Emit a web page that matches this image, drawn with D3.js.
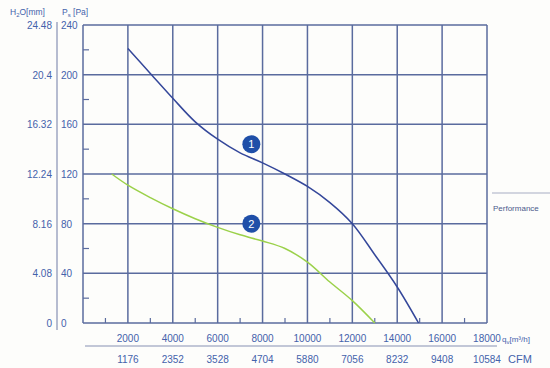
<!DOCTYPE html>
<html>
<head>
<meta charset="UTF-8">
<script src="https://d3js.org/d3.v7.min.js"></script>
<style>
  body { margin: 0; background: #fdfdfb; }
  svg { display: block; font-family: "Liberation Sans", Arial, sans-serif; }
</style>
</head>
<body>
<svg></svg>
<script>
// flow values [m3/h] and static pressure [Pa]
var curve1 = [[2000,221],[3000,201],[4000,181],[5000,162],[6000,148],[7000,137],[8000,129],
              [9000,120],[10000,110],[11000,97],[12000,80],[13000,55],[14000,29],[14950,0]];
var curve2 = [[1280,120],[2000,111],[3000,101],[4000,92],[5000,84],[6000,77],[7000,71],
              [8000,66],[9000,60],[10000,49],[11000,33],[12000,18],[13000,0]];
var markers = [{x: 7500, y: 144, label: "1"}, {x: 7500, y: 80, label: "2"}];

var xTicks = [2000, 4000, 6000, 8000, 10000, 12000, 14000, 16000, 18000];
var cfmLabels = ["1176", "2352", "3528", "4704", "5880", "7056", "8232", "9408", "10584"];
var paTicks = [0, 40, 80, 120, 160, 200, 240];
var mmLabels = ["0", "4.08", "8.16", "12.24", "16.32", "20.4", "24.48"];

var W = 550, H = 368;
var gridColor = "#5a6b9e", textColor = "#4462ab";

var svg = d3.select("svg").attr("width", W).attr("height", H);

var x = d3.scaleLinear().domain([0, 18000]).range([83, 487]);
var y = d3.scaleLinear().domain([0, 240]).range([323, 25]);

// grid
var grid = svg.append("g");
grid.selectAll("line.v")
  .data(d3.range(0, 18001, 2000))
  .enter().append("line")
  .attr("x1", d => x(d)).attr("x2", d => x(d))
  .attr("y1", y(0)).attr("y2", y(240))
  .attr("stroke", gridColor).attr("stroke-width", 1.5);
grid.selectAll("line.h")
  .data(paTicks)
  .enter().append("line")
  .attr("x1", x(0)).attr("x2", x(18000))
  .attr("y1", d => y(d)).attr("y2", d => y(d))
  .attr("stroke", gridColor).attr("stroke-width", 1.5);

// minor ticks
grid.selectAll("line.mx")
  .data(d3.range(1000, 18000, 2000))
  .enter().append("line")
  .attr("x1", d => x(d)).attr("x2", d => x(d))
  .attr("y1", y(0)).attr("y2", y(0) - 5)
  .attr("stroke", gridColor).attr("stroke-width", 1.2);
grid.selectAll("line.my")
  .data(d3.range(20, 240, 40))
  .enter().append("line")
  .attr("x1", x(0)).attr("x2", x(0) + 6)
  .attr("y1", d => y(d)).attr("y2", d => y(d))
  .attr("stroke", gridColor).attr("stroke-width", 1.2);

// separator between the two left scales
svg.append("line")
  .attr("x1", 57).attr("x2", 57).attr("y1", 22).attr("y2", 330)
  .attr("stroke", "#8791b4").attr("stroke-width", 1.2);

// left labels
svg.selectAll("text.mm")
  .data(paTicks)
  .enter().append("text")
  .attr("x", 52).attr("y", d => y(d) + 4)
  .attr("text-anchor", "end")
  .attr("font-size", 10).attr("fill", textColor)
  .text((d, i) => mmLabels[i]);
svg.selectAll("text.pa")
  .data(paTicks)
  .enter().append("text")
  .attr("x", 61).attr("y", d => y(d) + 4)
  .attr("font-size", 10).attr("fill", textColor)
  .text(d => d);

svg.append("text").attr("x", 10).attr("y", 15)
  .attr("font-size", 8.5).attr("fill", textColor)
  .html("H<tspan font-size='6' dy='2'>2</tspan><tspan dy='-2'>O[mm]</tspan>");
svg.append("text").attr("x", 62).attr("y", 15)
  .attr("font-size", 8.5).attr("fill", textColor)
  .html("P<tspan font-size='6' dy='2'>s</tspan><tspan dy='-2'> [Pa]</tspan>");

// bottom labels
svg.selectAll("text.q")
  .data(xTicks)
  .enter().append("text")
  .attr("x", d => x(d)).attr("y", 342)
  .attr("text-anchor", "middle")
  .attr("font-size", 10).attr("fill", textColor)
  .text(d => d);
svg.selectAll("text.cfm")
  .data(xTicks)
  .enter().append("text")
  .attr("x", d => x(d)).attr("y", 363)
  .attr("text-anchor", "middle")
  .attr("font-size", 10).attr("fill", textColor)
  .text((d, i) => cfmLabels[i]);
svg.append("line")
  .attr("x1", 85).attr("x2", 497).attr("y1", 346).attr("y2", 346)
  .attr("stroke", "#8791b4").attr("stroke-width", 1.2);
svg.append("text").attr("x", 502).attr("y", 342)
  .attr("font-size", 8).attr("fill", textColor)
  .html("q<tspan font-size='6' dy='2'>v</tspan><tspan dy='-2'>[m³/h]</tspan>");
svg.append("text").attr("x", 508).attr("y", 363)
  .attr("font-size", 11).attr("fill", textColor)
  .text("CFM");

// performance side note
svg.append("line")
  .attr("x1", 492).attr("x2", 550).attr("y1", 193).attr("y2", 193)
  .attr("stroke", "#c3c7d6").attr("stroke-width", 1.5);
svg.append("text").attr("x", 493).attr("y", 211)
  .attr("font-size", 8).attr("fill", "#4b5b8c")
  .text("Performance");

// curves
var line = d3.line().x(d => x(d[0])).y(d => y(d[1])).curve(d3.curveCatmullRom.alpha(0.5));
svg.append("path").datum(curve2)
  .attr("d", line).attr("fill", "none")
  .attr("stroke", "#9bd14a").attr("stroke-width", 1.5);
svg.append("path").datum(curve1)
  .attr("d", line).attr("fill", "none")
  .attr("stroke", "#34479a").attr("stroke-width", 1.5);

// numbered markers
var mk = svg.selectAll("g.mk").data(markers).enter().append("g")
  .attr("transform", d => "translate(" + x(d.x) + "," + y(d.y) + ")");
mk.append("circle").attr("r", 9).attr("fill", "#1f4fa8");
mk.append("text").attr("y", 4).attr("text-anchor", "middle")
  .attr("font-size", 11).attr("fill", "#fff").text(d => d.label);
</script>
</body>
</html>
